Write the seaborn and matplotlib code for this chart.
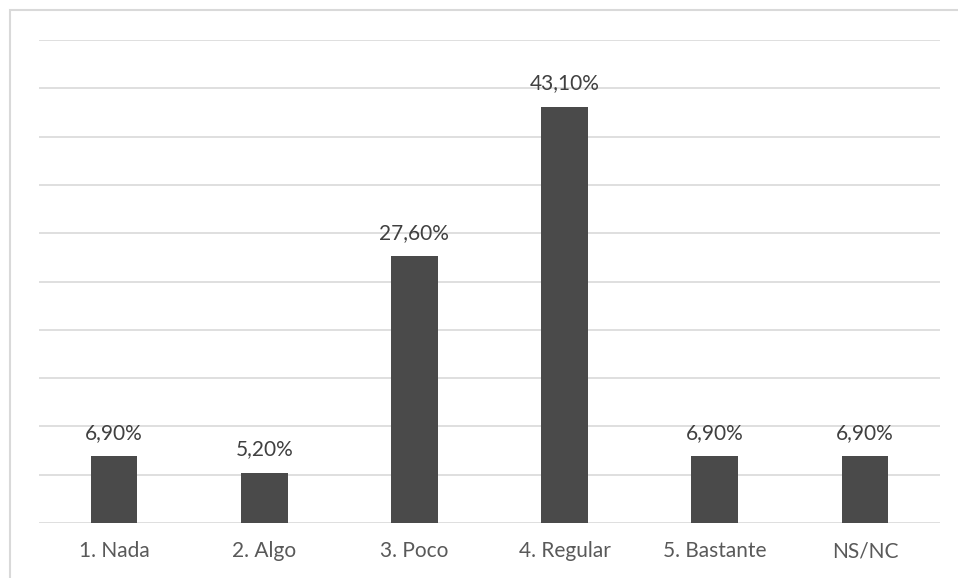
import matplotlib
matplotlib.use("Agg")
import matplotlib.pyplot as plt
import seaborn as sns
import pandas as pd
from matplotlib.patches import Rectangle

categories = ['1. Nada', '2. Algo', '3. Poco', '4. Regular', '5. Bastante', 'NS/NC']
values = [6.9, 5.2, 27.6, 43.1, 6.9, 6.9]
labels = ['6,90%', '5,20%', '27,60%', '43,10%', '6,90%', '6,90%']

sns.set_style('white')
plt.rcParams['font.family'] = ['Lato', 'DejaVu Sans']

df = pd.DataFrame({'cat': categories, 'val': values})

fig = plt.figure(figsize=(9.58, 5.78), dpi=100)
ax = fig.add_axes([39 / 958, 55 / 578, 901 / 958, 483 / 578])

sns.barplot(data=df, x='cat', y='val', color='#4a4a4a', saturation=1,
            width=0.31, linewidth=0, ax=ax, zorder=3)

ax.set_ylim(0, 50)
ax.set_xlim(-0.5, 5.5)
ax.set_yticks(range(0, 51, 5))
ax.yaxis.grid(True, color='#d9d9d9', linewidth=1.2, zorder=0)
ax.set_yticklabels([])
ax.tick_params(axis='y', length=0)
ax.tick_params(axis='x', length=0, pad=13, labelsize=15, labelcolor='#595959')
ax.set_xlabel('')
ax.set_ylabel('')
for s in ax.spines.values():
    s.set_visible(False)

for i, (v, t) in enumerate(zip(values, labels)):
    ax.annotate(t, (i, v), xytext=(0, 12.5), textcoords='offset points',
                ha='center', va='baseline', fontsize=15, color='#404040')

# outer chart-area border
fig.add_artist(Rectangle((9.5 / 958, -0.1), 1.2, 1.1 - 10.5 / 578,
                         transform=fig.transFigure, fill=False,
                         edgecolor='#d9d9d9', linewidth=1.5))

fig.savefig('out.png', dpi=100)
